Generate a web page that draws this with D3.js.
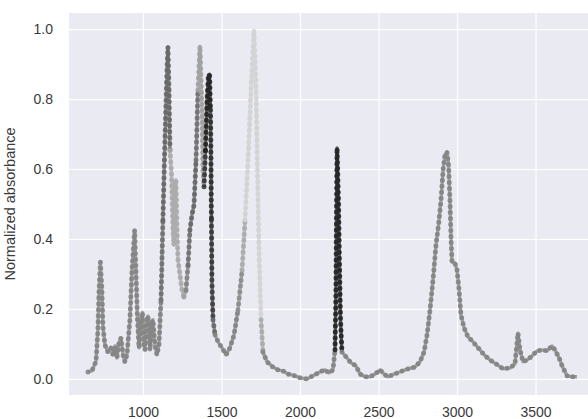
<!DOCTYPE html>
<html>
<head>
<meta charset="utf-8">
<script src="https://cdn.jsdelivr.net/npm/d3@7"></script>
<style>
  body { margin: 0; background: #fff; }
  text { font-family: "Liberation Sans", Arial, sans-serif; }
</style>
</head>
<body>
<div id="chart"></div>
<script>
// spectrum (wavenumber, normalized absorbance)
const wavenumber = [650, 675, 701, 713, 720, 729, 739, 745, 758, 777, 796, 809, 822, 834, 847, 860, 873, 885, 898,
  917, 930, 947, 955, 965, 975, 987, 997, 1006, 1013, 1025, 1032, 1045, 1057, 1064, 1076, 1089, 1102,
  1115, 1127, 1140, 1153, 1159, 1166, 1172, 1182, 1191, 1197, 1204, 1210, 1217, 1223, 1236, 1248, 1261,
  1274, 1287, 1299, 1312, 1325, 1338, 1350, 1363, 1376, 1382, 1389, 1398, 1408, 1417, 1424, 1430, 1433,
  1436, 1439, 1446, 1459, 1478, 1503, 1529, 1554, 1580, 1605, 1631, 1650, 1669, 1688, 1707, 1720, 1729,
  1739, 1752, 1764, 1790, 1828, 1860, 1892, 1924, 1955, 2000, 2045, 2083, 2127, 2159, 2185, 2210, 2223,
  2229, 2232, 2236, 2245, 2251, 2258, 2267, 2293, 2325, 2357, 2382, 2414, 2446, 2478, 2510, 2535, 2560,
  2599, 2637, 2688, 2732, 2764, 2790, 2809, 2828, 2847, 2866, 2882, 2898, 2911, 2923, 2936, 2946, 2955,
  2962, 2968, 2987, 3000, 3013, 3025, 3045, 3070, 3102, 3134, 3172, 3210, 3248, 3293, 3338, 3369, 3388,
  3401, 3420, 3446, 3478, 3510, 3541, 3573, 3605, 3624, 3650, 3675, 3701, 3732, 3764];
const absorbance = [0.020, 0.023, 0.050, 0.140, 0.250, 0.334, 0.250, 0.150, 0.097, 0.077, 0.089, 0.069, 0.094, 0.060, 0.103, 0.117, 0.069, 0.049, 0.069,
  0.170, 0.310, 0.425, 0.310, 0.170, 0.089, 0.170, 0.190, 0.097, 0.083, 0.174, 0.180, 0.083, 0.163, 0.169, 0.097, 0.069, 0.097,
  0.226, 0.454, 0.683, 0.883, 0.949, 0.826, 0.654, 0.583, 0.426, 0.383, 0.554, 0.569, 0.426, 0.340, 0.297, 0.254, 0.234,
  0.254, 0.326, 0.426, 0.469, 0.497, 0.626, 0.826, 0.951, 0.769, 0.597, 0.549, 0.654, 0.797, 0.869, 0.871, 0.769, 0.626,
  0.454, 0.283, 0.169, 0.126, 0.106, 0.089, 0.069, 0.089, 0.126, 0.197, 0.311, 0.454, 0.626, 0.826, 0.997, 0.826, 0.597,
  0.369, 0.169, 0.077, 0.049, 0.034, 0.026, 0.023, 0.014, 0.011, 0.003, 0.000, 0.009, 0.020, 0.026, 0.017, 0.026, 0.083,
  0.254, 0.454, 0.660, 0.511, 0.340, 0.169, 0.077, 0.063, 0.046, 0.037, 0.014, 0.006, 0.006, 0.014, 0.026, 0.014, 0.006,
  0.014, 0.020, 0.029, 0.034, 0.049, 0.077, 0.126, 0.197, 0.283, 0.383, 0.440, 0.511, 0.597, 0.640, 0.649, 0.611, 0.511,
  0.397, 0.334, 0.331, 0.311, 0.254, 0.183, 0.146, 0.120, 0.106, 0.089, 0.069, 0.054, 0.043, 0.029, 0.031, 0.043, 0.131,
  0.083, 0.049, 0.054, 0.066, 0.080, 0.083, 0.080, 0.094, 0.083, 0.060, 0.031, 0.009, 0.006, 0.006];
// relative importance of each point (drawn as grey level)
const weight = [0.45, 0.45, 0.45, 0.45, 0.45, 0.45, 0.45, 0.45, 0.45, 0.45, 0.45, 0.45, 0.45, 0.45, 0.45, 0.45, 0.45, 0.45, 0.45,
  0.45, 0.45, 0.45, 0.45, 0.45, 0.45, 0.45, 0.45, 0.45, 0.45, 0.45, 0.45, 0.45, 0.45, 0.45, 0.45, 0.45, 0.45,
  0.55, 0.6, 0.6, 0.6, 0.6, 0.6, 0.25, 0.25, 0.25, 0.25, 0.25, 0.25, 0.25, 0.25, 0.25, 0.25, 0.3,
  0.45, 0.55, 0.6, 0.6, 0.6, 0.55, 0.3, 0.3, 0.3, 0.3, 0.85, 0.95, 0.95, 0.95, 0.95, 0.9, 0.9,
  0.85, 0.8, 0.6, 0.45, 0.45, 0.45, 0.45, 0.45, 0.45, 0.4, 0.25, 0.04, 0.04, 0.04, 0.04, 0.04, 0.04,
  0.04, 0.25, 0.45, 0.45, 0.45, 0.45, 0.45, 0.45, 0.45, 0.45, 0.45, 0.45, 0.45, 0.45, 0.45, 0.45, 0.95,
  0.95, 0.95, 0.95, 0.95, 0.95, 0.95, 0.45, 0.45, 0.45, 0.45, 0.45, 0.45, 0.45, 0.45, 0.45, 0.45, 0.45,
  0.45, 0.45, 0.45, 0.45, 0.45, 0.45, 0.45, 0.45, 0.45, 0.45, 0.45, 0.45, 0.45, 0.45, 0.45, 0.45, 0.45,
  0.45, 0.45, 0.45, 0.45, 0.45, 0.45, 0.45, 0.45, 0.45, 0.45, 0.45, 0.45, 0.45, 0.45, 0.45, 0.45, 0.45,
  0.45, 0.45, 0.45, 0.45, 0.45, 0.45, 0.45, 0.45, 0.45, 0.45, 0.45, 0.45, 0.45, 0.45];
const xTicks = [1000, 1500, 2000, 2500, 3000, 3500];
const yTicks = [0.0, 0.2, 0.4, 0.6, 0.8, 1.0];

const width = 588, height = 419;
const margin = { top: 13, right: 0, bottom: 24, left: 69 };

const svg = d3.select('#chart').append('svg')
  .attr('width', width)
  .attr('height', height);

const x = d3.scaleLinear()
  .domain([529, 3834])
  .range([margin.left, width - margin.right]);
const y = d3.scaleLinear()
  .domain([-0.046, 1.046])
  .range([height - margin.bottom, margin.top]);
const tone = d3.scaleLinear()
  .domain([0, 1])
  .range(['#dadada', '#151515']);

svg.append('rect')
  .attr('x', margin.left)
  .attr('y', margin.top)
  .attr('width', width - margin.left - margin.right)
  .attr('height', height - margin.top - margin.bottom)
  .attr('fill', '#eaeaf2');

// grid + tick labels, seaborn darkgrid look
let xAxis = svg.append('g')
  .attr('transform', `translate(0,${height - margin.bottom})`)
  .call(d3.axisBottom(x).tickValues(xTicks).tickSize(-(height - margin.top - margin.bottom)).tickPadding(12).tickFormat(d3.format('d')));
let yAxis = svg.append('g')
  .attr('transform', `translate(${margin.left},0)`)
  .call(d3.axisLeft(y).tickValues(yTicks).tickSize(-(width - margin.left - margin.right)).tickPadding(16).tickFormat(d3.format('.1f')));

svg.selectAll('.domain').remove();
svg.selectAll('.tick line').attr('stroke', '#fff').attr('stroke-width', 1.2);
svg.selectAll('.tick text')
  .attr('fill', '#3a3a3a')
  .style('font-size', '14px')
  .style('font-family', '"Liberation Sans", Arial, sans-serif');

svg.append('text')
  .attr('transform', `translate(15,${(margin.top + height - margin.bottom) / 2}) rotate(-90)`)
  .attr('text-anchor', 'middle')
  .attr('fill', '#3a3a3a')
  .style('font-size', '14.5px')
  .text('Normalized absorbance');

// split into runs of equal weight so each run gets its grey
const points = wavenumber.map((w, i) => ({ w: w, a: absorbance[i], k: weight[i] }));
const runs = [];
points.forEach((p, i) => {
  if (i === 0 || p.k !== points[i - 1].k) {
    if (runs.length) runs[runs.length - 1].push(p);
    runs.push([p]);
  } else {
    runs[runs.length - 1].push(p);
  }
});

const line = d3.line()
  .x((d) => x(d.w))
  .y((d) => y(d.a));

let g = svg.append('g');

g.selectAll('.trace')
  .data(runs)
  .enter().append('path')
  .attr('class', 'trace')
  .attr('d', line)
  .attr('fill', 'none')
  .attr('stroke', (d) => tone(d[0].k))
  .attr('stroke-width', 3.4)
  .attr('stroke-opacity', 0.7)
  .attr('stroke-linejoin', 'round');

g.selectAll('.dots')
  .data(runs)
  .enter().append('path')
  .attr('class', 'dots')
  .attr('d', line)
  .attr('fill', 'none')
  .attr('stroke', (d) => tone(d[0].k))
  .attr('stroke-width', 5)
  .attr('stroke-opacity', 0.85)
  .attr('stroke-linecap', 'round')
  .attr('stroke-dasharray', '0,6');
</script>
</body>
</html>
